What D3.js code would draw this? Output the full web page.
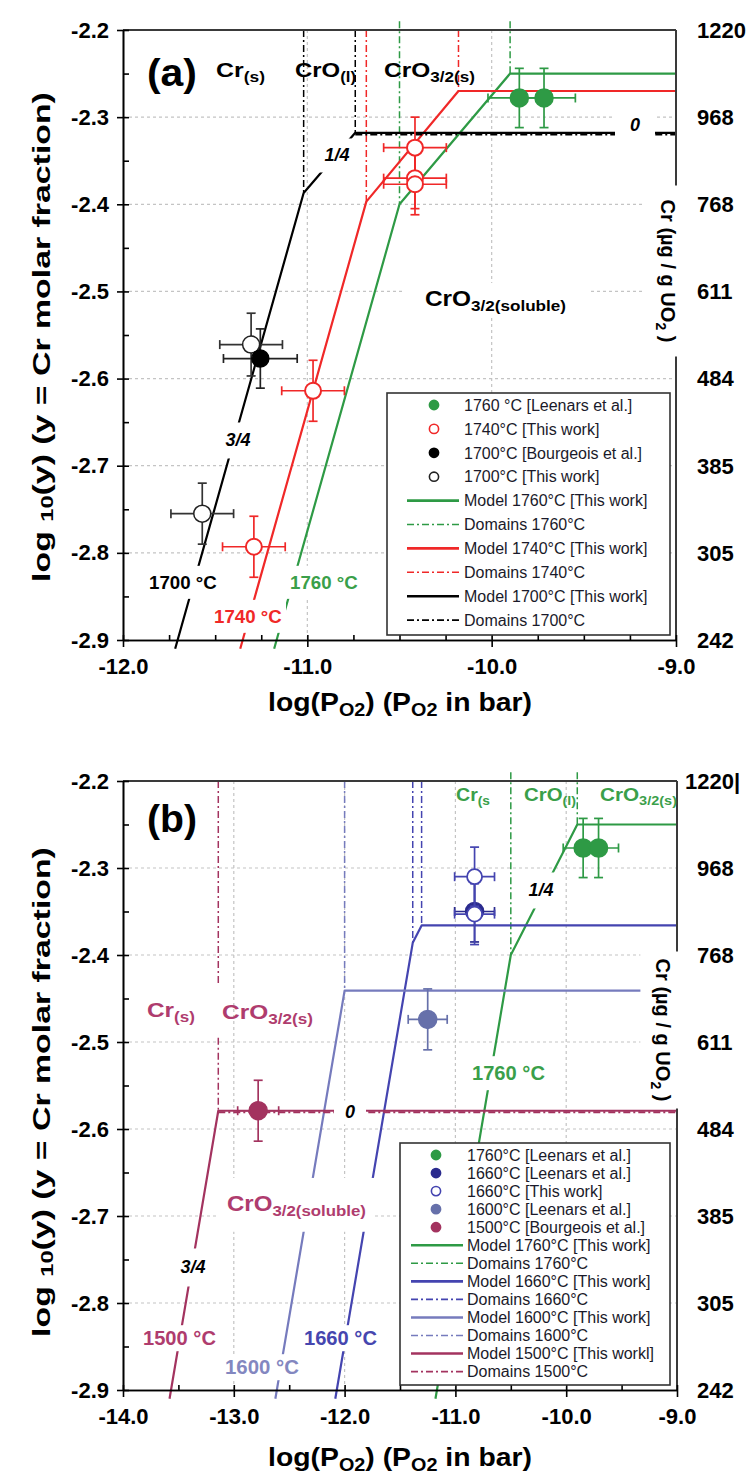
<!DOCTYPE html>
<html><head><meta charset="utf-8">
<script src="https://cdn.jsdelivr.net/npm/d3@7"></script>
<style>body{margin:0;background:#fff}</style>
</head><body>
<svg id="c" width="754" height="1477" xmlns="http://www.w3.org/2000/svg"></svg>
<script>
// ---------------- DATA ----------------
const yTicks = [-2.9,-2.8,-2.7,-2.6,-2.5,-2.4,-2.3,-2.2];
const yTickLabels = ["-2.9","-2.8","-2.7","-2.6","-2.5","-2.4","-2.3","-2.2"];
const yMinorTicks = [-2.9,-2.85,-2.8,-2.75,-2.7,-2.65,-2.6,-2.55,-2.5,-2.45,-2.4,-2.35,-2.3,-2.25,-2.2];
const yGrid = [-2.8,-2.7,-2.6,-2.5,-2.4,-2.3];
const rightLabelsA = ["242","305","385","484","611","768","968","1220"];
const rightLabelsB = ["242","305","385","484","611","768","968","1220|"];

const xTicksA = [-12,-11,-10,-9];
const xLabelsA = ["-12.0","-11.0","-10.0","-9.0"];
const xMinorA = [-12,-11.75,-11.5,-11.25,-11,-10.75,-10.5,-10.25,-10,-9.75,-9.5,-9.25,-9];
const xGridA = [-11,-10];

const xTicksB = [-14,-13,-12,-11,-10,-9];
const xLabelsB = ["-14.0","-13.0","-12.0","-11.0","-10.0","-9.0"];
const xMinorB = [-14,-13.5,-13,-12.5,-12,-11.5,-11,-10.5,-10,-9.5,-9];
const xGridB = [-13,-12,-11,-10];

// points: [logPO2, log10(y), xErr, yErr]
const ptsA1760Leenars = [[-9.85,-2.278,0.17,0.034],[-9.716,-2.278,0.17,0.034]];
const ptsA1740This = [[-10.416,-2.335,0.17,0.035],[-10.416,-2.37,0.17,0.035],[-10.416,-2.377,0.17,0.035],[-10.969,-2.614,0.17,0.035],[-11.29,-2.793,0.17,0.035]];
const ptsA1700Bourgeois = [[-11.255,-2.577,0.2,0.034]];
const ptsA1700This = [[-11.305,-2.561,0.17,0.036],[-11.57,-2.755,0.17,0.035]];

const ptsB1760Leenars = [[-9.847,-2.277,0.18,0.034],[-9.708,-2.277,0.18,0.034]];
const ptsB1660Leenars = [[-10.827,-2.35,0.18,0.035]];
const ptsB1660This = [[-10.827,-2.31,0.18,0.034],[-10.827,-2.353,0.18,0.035]];
const ptsB1600Leenars = [[-11.25,-2.474,0.176,0.035]];
const ptsB1500Bourgeois = [[-12.78,-2.579,0.185,0.035]];

// model lines [logPO2, log10(y)]
const modelA1760 = [[-11.18,-2.91],[-10.5,-2.4],[-9.9,-2.25],[-9.0,-2.25]];
const modelA1740 = [[-11.364,-2.91],[-10.68,-2.397],[-10.18,-2.27],[-9.0,-2.27]];
const modelA1700 = [[-11.717,-2.91],[-11.02,-2.387],[-10.74,-2.318],[-9.0,-2.318]];
const modelB1760 = [[-11.18,-2.91],[-10.5,-2.4],[-9.9,-2.25],[-9.0,-2.25]];
const modelB1660 = [[-12.084,-2.91],[-11.385,-2.386],[-11.305,-2.366],[-9.0,-2.366]];
const modelB1600 = [[-12.625,-2.91],[-12.0,-2.441],[-9.0,-2.441]];
const modelB1500 = [[-13.58,-2.91],[-13.14,-2.579],[-9.0,-2.579]];

// domain boundaries (dash-dot)
const domA1760 = [[[-10.5,-2.19],[-10.5,-2.4]],[[-9.9,-2.19],[-9.9,-2.25]]];
const domA1740 = [[[-10.68,-2.2],[-10.68,-2.397]],[[-10.18,-2.2],[-10.18,-2.27]]];
const domA1700 = [[[-11.02,-2.2],[-11.02,-2.387]],[[-10.74,-2.2],[-10.74,-2.318]]];
const domA1700H = [[-10.74,-2.318],[-9.0,-2.318]];
const domB1760 = [[[-10.5,-2.19],[-10.5,-2.4]],[[-9.9,-2.19],[-9.9,-2.25]]];
const domB1660 = [[[-11.385,-2.2],[-11.385,-2.386]],[[-11.305,-2.2],[-11.305,-2.366]]];
const domB1600 = [[[-12.0,-2.2],[-12.0,-2.441]]];
const domB1500 = [[[-13.14,-2.2],[-13.14,-2.435]],[[-13.14,-2.495],[-13.14,-2.579]]];
const domB1500H = [[-13.14,-2.579],[-9.0,-2.579]];

// ---------------- STYLE ----------------
const FONT = '"Liberation Sans", Arial, Helvetica, sans-serif';
const C = {
  g:"#2e9a45", gL:"#3a9f4a",
  r:"#f02828",
  k:"#000000",
  b:"#4444b0", bPt:"#2b2b8e", bL:"#4646af",
  s:"#767bbd", sPt:"#6670aa", sL:"#8387c0",
  p:"#a3335f", pL:"#af3c6e"
};
const DASHDOT = "7,3,2,3";
const svg = d3.select("#c");

function addText(parent, o){
  const outer = parent.append("g").attr("transform", `translate(${o.x},${o.y}) rotate(${o.rot||0})`);
  const inner = outer.append("g");
  const t = inner.append("text")
    .attr("font-family", FONT).attr("font-size", o.size)
    .attr("font-weight", o.weight||"bold").attr("font-style", o.italic?"italic":"normal")
    .attr("fill", o.fill||"#000").attr("text-anchor", o.anchor||"start")
    .attr("x",0).attr("y", 0.36*o.size);
  let shifted = 0;
  o.parts.forEach(p=>{
    const s = (typeof p === "string") ? [p,0] : p;
    const ts = t.append("tspan").text(s[0]);
    const want = s[1] ? (o.subShift||0.22)*o.size : 0;
    if (s[1]) ts.attr("font-size", o.size*(o.subScale||0.7));
    if (want !== shifted){ ts.attr("dy", want-shifted); shifted = want; }
  });
  const bb = t.node().getBBox();
  const sx = o.width ? o.width/bb.width : 1;
  inner.attr("transform", `scale(${sx},1)`);
  if (o.bg){
    outer.insert("rect", ":first-child")
      .attr("x", bb.x*sx - o.bg[0]).attr("y", bb.y - o.bg[1])
      .attr("width", bb.width*sx + 2*o.bg[0]).attr("height", bb.height + 2*o.bg[1])
      .attr("fill", "#fff");
  }
  return outer;
}

function makePanel(P){
  const x = d3.scaleLinear().domain(P.xDomain).range([P.left, P.right]);
  const y = d3.scaleLinear().domain([-2.9,-2.2]).range([P.bottom, P.top]);
  const g = svg.append("g");
  const line = d3.line().x(d=>x(d[0])).y(d=>y(d[1]));

  // grid
  g.append("g").selectAll("line").data(yGrid).join("line")
    .attr("x1", P.left).attr("x2", P.right).attr("y1", d=>y(d)).attr("y2", d=>y(d))
    .attr("stroke", "#c4c4c4").attr("stroke-width", 1.2).attr("stroke-dasharray", "3,3");
  g.append("g").selectAll("line").data(P.xGrid).join("line")
    .attr("x1", d=>x(d)).attr("x2", d=>x(d)).attr("y1", P.top).attr("y2", P.bottom)
    .attr("stroke", "#c4c4c4").attr("stroke-width", 1.2).attr("stroke-dasharray", "3,3");

  // domain lines
  P.domains.forEach(D=>{
    g.append("g").selectAll("path").data(D.segs).join("path")
      .attr("d", line).attr("fill","none").attr("stroke", D.color)
      .attr("stroke-width", 1.5).attr("stroke-dasharray", DASHDOT);
  });
  // model lines
  P.models.forEach(M=>{
    g.append("path").datum(M.data).attr("d", line).attr("fill","none")
      .attr("stroke", M.color).attr("stroke-width", 2.2).attr("stroke-linejoin","round");
  });
  // horizontal domain lines (overlaying the flat model segment)
  P.domainsH.forEach(D=>{
    g.append("path").datum(D.data).attr("d", line).attr("fill","none")
      .attr("stroke", D.color).attr("stroke-width", 2).attr("stroke-dasharray", DASHDOT)
      .attr("transform","translate(0,1.6)");
  });

  // frame (top, right)
  g.append("line").attr("x1",P.left).attr("x2",P.right).attr("y1",P.top).attr("y2",P.top)
    .attr("stroke","#3a3a3a").attr("stroke-width",2);
  g.append("line").attr("x1",P.right).attr("x2",P.right).attr("y1",P.top).attr("y2",P.bottom)
    .attr("stroke","#3a3a3a").attr("stroke-width",2);

  // axes
  const axFont = s=>s.attr("font-family",FONT).attr("font-size",22).attr("font-weight","bold");
  const yl = g.append("g").attr("transform",`translate(${P.left},0)`)
    .call(d3.axisLeft(y).tickValues(yTicks).tickSize(6).tickSizeOuter(0).tickPadding(8).tickFormat((d,i)=>yTickLabels[i]));
  axFont(yl); yl.selectAll("text").attr("fill","#000");
  const yi = g.append("g").attr("transform",`translate(${P.left},0)`)
    .call(d3.axisRight(y).tickValues(yMinorTicks).tickSize(6).tickSizeOuter(0).tickFormat(""));
  const xb = g.append("g").attr("transform",`translate(0,${P.bottom})`)
    .call(d3.axisBottom(x).tickValues(P.xTicks).tickSize(7).tickSizeOuter(0).tickPadding(11).tickFormat((d,i)=>P.xLabels[i]));
  axFont(xb); xb.selectAll("text").attr("fill","#000");
  const xi = g.append("g").attr("transform",`translate(0,${P.bottom})`)
    .call(d3.axisTop(x).tickValues(P.xMinor).tickSize(5).tickSizeOuter(0).tickFormat(""));
  [yl,yi,xb,xi].forEach(a=>{a.selectAll("path,line").attr("stroke","#000").attr("stroke-width",1.6);});

  // right tick labels
  g.append("g").selectAll("text").data(yTicks).join("text")
    .attr("x",(d,i)=>P.rightX(i)).attr("y",d=>y(d)).attr("dy","0.36em")
    .attr("font-family",FONT).attr("font-size",22).attr("font-weight","bold").attr("fill","#000")
    .text((d,i)=>P.rightLabels[i]);

  return {g,x,y};
}

function drawPoints(g,x,y,data,st){
  const grp = g.append("g");
  const ec = st.err || st.stroke;
  data.forEach(d=>{
    const cx=x(d[0]), cy=y(d[1]);
    const xa=x(d[0]-d[2]), xb=x(d[0]+d[2]), ya=y(d[1]-d[3]), yb=y(d[1]+d[3]);
    const add=(x1,y1,x2,y2)=>grp.append("line").attr("x1",x1).attr("y1",y1).attr("x2",x2).attr("y2",y2)
      .attr("stroke",ec).attr("stroke-width",1.7);
    add(xa,cy,xb,cy); add(cx,ya,cx,yb);
    add(xa,cy-4.5,xa,cy+4.5); add(xb,cy-4.5,xb,cy+4.5);
    add(cx-4.5,ya,cx+4.5,ya); add(cx-4.5,yb,cx+4.5,yb);
  });
  grp.selectAll("circle").data(data).join("circle")
    .attr("cx",d=>x(d[0])).attr("cy",d=>y(d[1])).attr("r",st.r)
    .attr("fill",st.fill).attr("stroke",st.stroke).attr("stroke-width",st.sw||1.5);
}

function drawLegend(g, L){
  const lg = g.append("g");
  lg.append("rect").attr("x",L.x).attr("y",L.y).attr("width",L.w).attr("height",L.h)
    .attr("fill","#fff").attr("stroke","#333").attr("stroke-width",1.6);
  L.items.forEach((it,i)=>{
    const cy = L.y0 + i*L.step;
    if (it.type==="pt"){
      lg.append("circle").attr("cx",L.mx).attr("cy",cy).attr("r",4.6)
        .attr("fill",it.fill).attr("stroke",it.color).attr("stroke-width",1.6);
    } else {
      lg.append("line").attr("x1",L.l1).attr("x2",L.l2).attr("y1",cy).attr("y2",cy)
        .attr("stroke",it.color).attr("stroke-width", it.type==="line"?2.6:1.6)
        .attr("stroke-dasharray", it.type==="dash"?DASHDOT:null);
    }
    lg.append("text").attr("x",L.tx).attr("y",cy).attr("dy","0.36em")
      .attr("font-family",FONT).attr("font-size",16).attr("fill","#1a1a2a").text(it.label);
  });
}

// ---------------- PANEL A ----------------
const A = makePanel({
  left:123,right:676,top:30,bottom:640,xDomain:[-12,-9],
  xTicks:xTicksA,xLabels:xLabelsA,xMinor:xMinorA,xGrid:xGridA,
  rightLabels:rightLabelsA, rightX:i=>697,
  domains:[{segs:domA1760,color:C.g},{segs:domA1740,color:C.r},{segs:domA1700,color:C.k}],
  models:[{data:modelA1760,color:C.g},{data:modelA1740,color:C.r},{data:modelA1700,color:C.k}],
  domainsH:[{data:domA1700H,color:C.k}]
});
{
  const g=A.g;
  addText(g,{x:147,y:72,size:38,parts:["(a)"],width:50});
  addText(g,{x:216,y:70,size:20,parts:["Cr",["(s)",1]],width:49});
  addText(g,{x:295,y:70,size:20,parts:["CrO",["(l)",1]],width:61});
  addText(g,{x:384,y:70,size:20,parts:["CrO",["3/2(s)",1]],width:91});
  addText(g,{x:425,y:298,size:22,parts:["CrO",["3/2(soluble)",1]],width:141,bg:[23,3]});
  addText(g,{x:337,y:155,size:18,italic:true,anchor:"middle",parts:["1/4"],bg:[8,7]});
  addText(g,{x:238,y:440,size:18,italic:true,anchor:"middle",parts:["3/4"],bg:[4,8]});
  addText(g,{x:635,y:125,size:18,italic:true,anchor:"middle",parts:["0"],bg:[15,5]});
  addText(g,{x:149,y:582,size:19,parts:["1700 °C"],width:68,bg:[4,6],fill:C.k});
  addText(g,{x:214,y:616,size:19,parts:["1740 °C"],width:68,bg:[4,6],fill:C.r});
  addText(g,{x:290,y:582,size:19,parts:["1760 °C"],width:68,bg:[4,6],fill:C.gL});
  addText(g,{x:41,y:337,size:24,rot:-90,anchor:"middle",parts:["log ",["10",1],"(y) (y = Cr molar fraction)"],width:490,subShift:0.12});
  addText(g,{x:400,y:702,size:25,anchor:"middle",parts:["log(P",["O2",1],") (P",["O2",1]," in bar)"],width:264,subShift:0.18});
  addText(g,{x:668,y:271,size:20,rot:90,anchor:"middle",parts:["Cr (µg / g UO",["2",1]," )"],width:143,bg:[14,9]});

  drawPoints(g,A.x,A.y,ptsA1700This,{r:8.5,fill:"#fff",stroke:"#222",err:"#333"});
  drawPoints(g,A.x,A.y,ptsA1700Bourgeois,{r:8.5,fill:"#000",stroke:"#000",err:"#222"});
  drawPoints(g,A.x,A.y,ptsA1740This,{r:8,fill:"#fff",stroke:C.r,sw:2});
  drawPoints(g,A.x,A.y,ptsA1760Leenars,{r:9,fill:C.g,stroke:C.g});

  drawLegend(g,{x:387,y:393,w:283,h:242,y0:405,step:23.9,mx:434,l1:407,l2:459,tx:464,items:[
    {type:"pt",color:C.g,fill:C.g,label:"1760 °C [Leenars et al.]"},
    {type:"pt",color:C.r,fill:"#fff",label:"1740°C [This work]"},
    {type:"pt",color:"#000",fill:"#000",label:"1700°C [Bourgeois et al.]"},
    {type:"pt",color:"#222",fill:"#fff",label:"1700°C [This work]"},
    {type:"line",color:C.g,label:"Model 1760°C [This work]"},
    {type:"dash",color:C.g,label:"Domains 1760°C"},
    {type:"line",color:C.r,label:"Model 1740°C [This work]"},
    {type:"dash",color:C.r,label:"Domains 1740°C"},
    {type:"line",color:"#000",label:"Model 1700°C [This work]"},
    {type:"dash",color:"#000",label:"Domains 1700°C"}
  ]});
}

// ---------------- PANEL B ----------------
const B = makePanel({
  left:123,right:677,top:781,bottom:1390,xDomain:[-14,-9],
  xTicks:xTicksB,xLabels:xLabelsB,xMinor:xMinorB,xGrid:xGridB,
  rightLabels:rightLabelsB, rightX:i=>(i===7?685:697),
  domains:[{segs:domB1760,color:C.g},{segs:domB1660,color:C.b},{segs:domB1600,color:C.s},{segs:domB1500,color:C.p}],
  models:[{data:modelB1760,color:C.g},{data:modelB1660,color:C.b},{data:modelB1600,color:C.s},{data:modelB1500,color:C.p}],
  domainsH:[{data:domB1500H,color:C.p}]
});
{
  const g=B.g;
  addText(g,{x:147,y:818,size:38,parts:["(b)"],width:50});
  addText(g,{x:456,y:795,size:18,parts:["Cr",["(s",1]],width:34,fill:C.gL});
  addText(g,{x:524,y:795,size:18,parts:["CrO",["(l)",1]],width:52,fill:C.gL});
  addText(g,{x:600,y:795,size:18,parts:["CrO",["3/2(s)",1]],width:77,fill:C.gL});
  addText(g,{x:147,y:1010,size:20,parts:["Cr",["(s)",1]],width:48,fill:C.pL});
  addText(g,{x:222,y:1012,size:20,parts:["CrO",["3/2(s)",1]],width:91,fill:C.pL});
  addText(g,{x:541,y:890,size:18,italic:true,anchor:"middle",parts:["1/4"],bg:[4,8]});
  addText(g,{x:472,y:1073,size:20,parts:["1760 °C"],width:73,bg:[4,6],fill:C.gL});
  addText(g,{x:350,y:1112,size:18,italic:true,anchor:"middle",parts:["0"],bg:[11,2]});
  addText(g,{x:227,y:1203,size:22,parts:["CrO",["3/2(soluble)",1]],width:139,bg:[8,13],fill:C.pL});
  addText(g,{x:193,y:1267,size:18,italic:true,anchor:"middle",parts:["3/4"],bg:[4,9]});
  addText(g,{x:143,y:1338,size:20,parts:["1500 °C"],width:73,bg:[4,2],fill:C.pL});
  addText(g,{x:225,y:1367,size:20,parts:["1600 °C"],width:74,bg:[4,2],fill:C.sL});
  addText(g,{x:304,y:1338,size:20,parts:["1660 °C"],width:73,bg:[4,2],fill:C.bL});
  addText(g,{x:41,y:1092,size:24,rot:-90,anchor:"middle",parts:["log ",["10",1],"(y) (y = Cr molar fraction)"],width:490,subShift:0.12});
  addText(g,{x:400,y:1457,size:25,anchor:"middle",parts:["log(P",["O2",1],") (P",["O2",1]," in bar)"],width:264,subShift:0.18});
  addText(g,{x:663,y:1030,size:20,rot:90,anchor:"middle",parts:["Cr (µg / g UO",["2",1]," )"],width:143,bg:[7,8]});

  drawPoints(g,B.x,B.y,ptsB1500Bourgeois,{r:9,fill:C.p,stroke:C.p});
  drawPoints(g,B.x,B.y,ptsB1600Leenars,{r:9,fill:C.sPt,stroke:C.sPt});
  drawPoints(g,B.x,B.y,ptsB1660Leenars,{r:9,fill:C.bPt,stroke:C.bPt});
  drawPoints(g,B.x,B.y,ptsB1660This,{r:7.5,fill:"#fff",stroke:C.b,sw:1.8});
  drawPoints(g,B.x,B.y,ptsB1760Leenars,{r:9,fill:C.g,stroke:C.g});

  drawLegend(g,{x:400,y:1143,w:270,h:242,y0:1155,step:18.05,mx:436,l1:411,l2:463,tx:467,items:[
    {type:"pt",color:C.g,fill:C.g,label:"1760°C [Leenars et al.]"},
    {type:"pt",color:C.bPt,fill:C.bPt,label:"1660°C [Leenars et al.]"},
    {type:"pt",color:C.b,fill:"#fff",label:"1660°C [This work]"},
    {type:"pt",color:C.sPt,fill:C.sPt,label:"1600°C [Leenars et al.]"},
    {type:"pt",color:C.p,fill:C.p,label:"1500°C [Bourgeois et al.]"},
    {type:"line",color:C.g,label:"Model 1760°C [This work]"},
    {type:"dash",color:C.g,label:"Domains 1760°C"},
    {type:"line",color:C.b,label:"Model 1660°C [This work]"},
    {type:"dash",color:C.b,label:"Domains 1660°C"},
    {type:"line",color:C.s,label:"Model 1600°C [This work]"},
    {type:"dash",color:C.s,label:"Domains 1600°C"},
    {type:"line",color:C.p,label:"Model 1500°C [This workl]"},
    {type:"dash",color:C.p,label:"Domains 1500°C"}
  ]});
}
</script>
</body></html>
